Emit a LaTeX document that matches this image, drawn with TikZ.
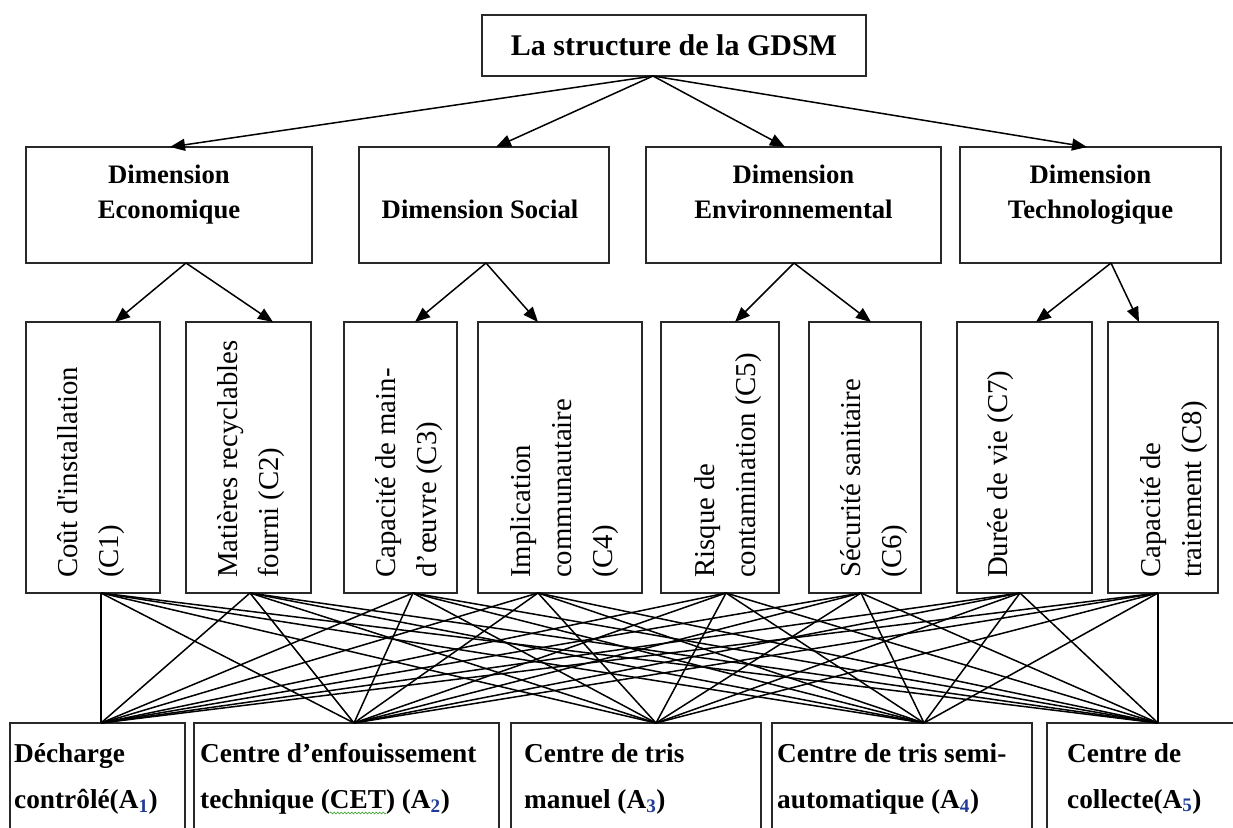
\documentclass[tikz,border=0pt]{standalone}
\usepackage{fontspec}
\setmainfont{Liberation Serif}
\newfontfamily\critfamily{Liberation Serif}[Ligatures=TeXOff]
\usetikzlibrary{arrows.meta,decorations.pathmorphing}

\definecolor{boxline}{RGB}{40,40,40}
\definecolor{subblue}{RGB}{30,60,150}
\definecolor{wavegreen}{RGB}{70,170,60}

% stacked lines whose baseline is the first line's baseline
\newcommand\leftlines[1]{\vtop{\halign{##\hfil\cr#1\crcr}}}
\newcommand\centerlines[1]{\vtop{\halign{\hfil##\hfil\cr#1\crcr}}}
% alternative index, e.g. (A_1)
\newcommand\altidx[1]{(A\textsubscript{\textcolor{subblue}{#1}})}
% green wavy underline of the spell checker
\newcommand\spellwave[1]{\tikz[baseline=0pt, x=1pt, y=1pt]{%
  \node[inner sep=0pt, anchor=base west] (sw) at (0,0) {#1};
  \draw[overlay, wavegreen, line width=0.7pt,
        decorate, decoration={snake, amplitude=0.9pt, segment length=3.5pt}]
    ([yshift=-5pt]sw.base west) -- ([yshift=-5pt]sw.base east);}}

\tikzset{
  box/.style={draw=boxline, line width=1.7pt, inner sep=0pt, outer sep=0pt, anchor=north west},
  arrow/.style={line width=1.5pt, -{Triangle[length=15pt,width=12pt]}},
  link/.style={line width=1.5pt},
  titletext/.style={font=\bfseries\fontsize{30}{36}\selectfont},
  dimtext/.style={anchor=base, inner sep=0pt, font=\bfseries\fontsize{26.7}{35}\selectfont},
  crittext/.style={rotate=90, anchor=base west, inner sep=0pt, font=\critfamily\fontsize{28.8}{41}\selectfont},
  alttext/.style={anchor=base west, inner sep=0pt, font=\bfseries\fontsize{27.3}{46}\selectfont},
}

\begin{document}
\begin{tikzpicture}[x=1pt, y=-1pt]
\useasboundingbox (0,0) rectangle (1233,827);
\clip (0,0) rectangle (1233,827);

% goal
\node[box, titletext, minimum width=384pt, minimum height=61pt] (top) at (482,15) {La structure de la GDSM};

% dimensions
\node[box, minimum width=286pt, minimum height=116pt] (dE) at (26,147) {};
\node[box, minimum width=250pt, minimum height=116pt] (dS) at (359,147) {};
\node[box, minimum width=295pt, minimum height=116pt] (dV) at (646,147) {};
\node[box, minimum width=261pt, minimum height=116pt] (dT) at (960,147) {};

\node[dimtext] (dE-t) at ([yshift=-36pt]dE.north) {\centerlines{Dimension\cr Economique}};
\node[dimtext] (dS-t) at ([shift={(-4pt,-71pt)}]dS.north) {Dimension Social};
\node[dimtext] (dV-t) at ([yshift=-36pt]dV.north) {\centerlines{Dimension\cr Environnemental}};
\node[dimtext] (dT-t) at ([yshift=-36pt]dT.north) {\centerlines{Dimension\cr Technologique}};

% criteria
\node[box, minimum width=134pt, minimum height=271pt] (c1) at (26,322) {};
\node[box, minimum width=125pt, minimum height=271pt] (c2) at (186,322) {};
\node[box, minimum width=113pt, minimum height=271pt] (c3) at (344,322) {};
\node[box, minimum width=164pt, minimum height=271pt] (c4) at (478,322) {};
\node[box, minimum width=118pt, minimum height=271pt] (c5) at (661,322) {};
\node[box, minimum width=112pt, minimum height=271pt] (c6) at (809,322) {};
\node[box, minimum width=135pt, minimum height=271pt] (c7) at (957,322) {};
\node[box, minimum width=110pt, minimum height=271pt] (c8) at (1108,322) {};

\node[crittext] (c1-t) at ([shift={(51pt,15pt)}]c1.south west) {\leftlines{Coût d'installation\cr (C1)}};
\node[crittext] (c2-t) at ([shift={(51pt,15pt)}]c2.south west) {\leftlines{Matières recyclables\cr fourni (C2)}};
\node[crittext] (c3-t) at ([shift={(51pt,15pt)}]c3.south west) {\leftlines{Capacité de main-\cr d’œuvre (C3)}};
\node[crittext] (c4-t) at ([shift={(52pt,15pt)}]c4.south west) {\leftlines{Implication\cr communautaire\cr (C4)}};
\node[crittext] (c5-t) at ([shift={(53pt,15pt)}]c5.south west) {\leftlines{Risque de\cr contamination (C5)}};
\node[crittext] (c6-t) at ([shift={(51pt,15pt)}]c6.south west) {\leftlines{Sécurité sanitaire\cr (C6)}};
\node[crittext] (c7-t) at ([shift={(50pt,15pt)}]c7.south west) {Durée de vie (C7)};
\node[crittext] (c8-t) at ([shift={(52pt,15pt)}]c8.south west) {\leftlines{Capacité de\cr traitement (C8)}};

% alternatives
\node[box, minimum width=175pt, minimum height=120pt] (a1) at (10,723) {};
\node[box, minimum width=305pt, minimum height=120pt] (a2) at (194,723) {};
\node[box, minimum width=250pt, minimum height=120pt] (a3) at (511,723) {};
\node[box, minimum width=260pt, minimum height=120pt] (a4) at (772,723) {};
\node[box, minimum width=200pt, minimum height=120pt] (a5) at (1047,723) {};

\node[alttext] (a1-t) at ([shift={(4pt,-39pt)}]a1.north west) {\leftlines{Décharge\cr contrôlé\altidx{1}}};
\node[alttext] (a2-t) at ([shift={(6pt,-39pt)}]a2.north west) {\leftlines{Centre d’enfouissement\cr technique (\spellwave{CET}) \altidx{2}}};
\node[alttext] (a3-t) at ([shift={(13pt,-39pt)}]a3.north west) {\leftlines{Centre de tris\cr manuel \altidx{3}}};
\node[alttext] (a4-t) at ([shift={(5pt,-39pt)}]a4.north west) {\leftlines{Centre de tris semi-\cr automatique \altidx{4}}};
\node[alttext] (a5-t) at ([shift={(20pt,-39pt)}]a5.north west) {\leftlines{Centre de\cr collecte\altidx{5}}};

% goal -> dimensions
\draw[arrow] ([xshift=-21pt]top.south) -- ([xshift=1pt]dE.north);
\draw[arrow] ([xshift=-21pt]top.south) -- ([xshift=12pt]dS.north);
\draw[arrow] ([xshift=-21pt]top.south) -- ([xshift=-8.5pt]dV.north);
\draw[arrow] ([xshift=-21pt]top.south) -- ([xshift=-3.5pt]dT.north);

% dimensions -> criteria
\draw[arrow] ([xshift=17pt]dE.south) -- ([xshift=22pt]c1.north);
\draw[arrow] ([xshift=17pt]dE.south) -- ([xshift=24.5pt]c2.north);
\draw[arrow] ([xshift=2pt]dS.south) -- ([xshift=14.5pt]c3.north);
\draw[arrow] ([xshift=2pt]dS.south) -- ([xshift=-22pt]c4.north);
\draw[arrow] ([xshift=0.5pt]dV.south) -- ([xshift=15pt]c5.north);
\draw[arrow] ([xshift=0.5pt]dV.south) -- ([xshift=6pt]c6.north);
\draw[arrow] ([xshift=20.5pt]dT.south) -- ([xshift=11.5pt]c7.north);
\draw[arrow] ([xshift=20.5pt]dT.south) -- ([xshift=-24pt]c8.north);

% every criterion linked to every alternative
\foreach \c/\dx in {c1/8, c2/1.5, c3/12.5, c4/-22, c5/6, c6/-4, c7/-4.5, c8/-5}
  \foreach \a/\ax in {a1/3.5, a2/7.5, a3/20, a4/22, a5/11}
    \draw[link] ([xshift=\dx pt]\c.south) -- ([xshift=\ax pt]\a.north);
\end{tikzpicture}
\end{document}
